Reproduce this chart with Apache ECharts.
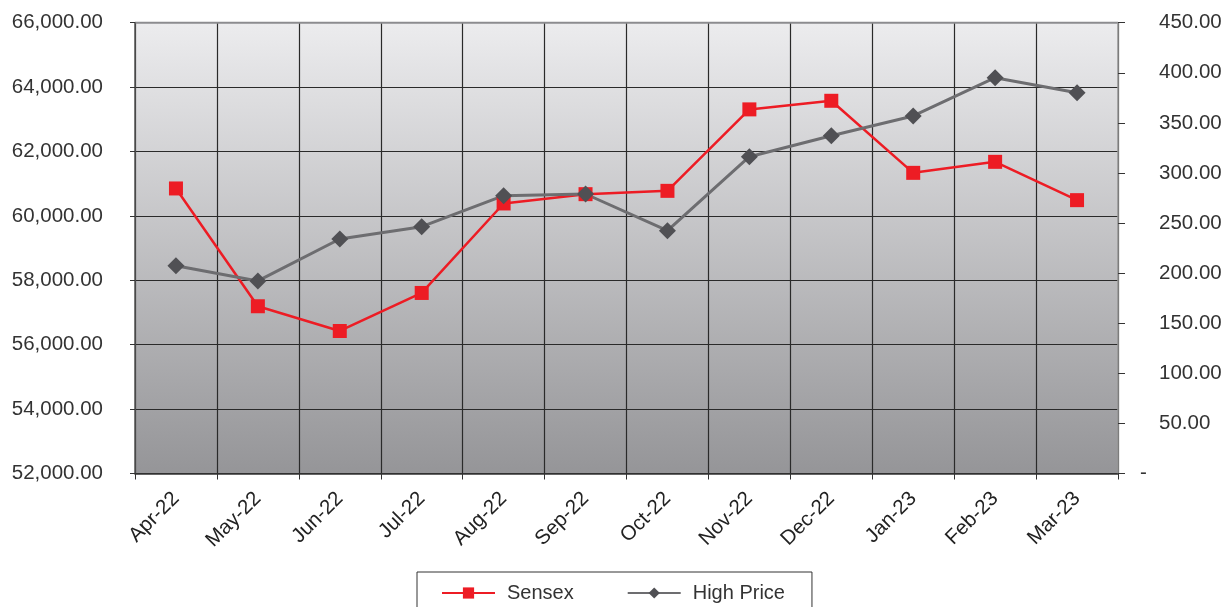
<!DOCTYPE html>
<html><head><meta charset="utf-8">
<script src="https://cdn.jsdelivr.net/npm/echarts@6/dist/echarts.min.js"></script>
<style>html,body{margin:0;padding:0;background:#fff}#c{width:1225px;height:607px}</style>
</head><body><div id="c"></div>
<script>
const months = ['Apr-22','May-22','Jun-22','Jul-22','Aug-22','Sep-22','Oct-22','Nov-22','Dec-22','Jan-23','Feb-23','Mar-23'];
const sensex = [60852, 57194, 56426, 57607, 60386, 60675, 60778, 63308, 63575, 61337, 61679, 60489];
const highPrice = [207.4, 192.2, 234.1, 246.4, 277.3, 279.0, 242.4, 316.2, 337.2, 356.9, 395.1, 380.1];
const leftTicks = {min: 52000, max: 66000, interval: 2000};
const rightTicks = {min: 0, max: 450, interval: 50};

const font = 'Liberation Sans, Arial, sans-serif';
const fs = 20.5;
const fmt2 = v => v.toLocaleString('en-US', {minimumFractionDigits: 2, maximumFractionDigits: 2});
const chart = echarts.init(document.getElementById('c'));
chart.setOption({
  animation: false,
  grid: {
    left: 135, right: 107, top: 22.7, bottom: 133.5, show: true,
    borderWidth: 0,
    backgroundColor: {type: 'linear', x: 0, y: 0, x2: 0, y2: 1,
      colorStops: [{offset: 0, color: '#ececee'}, {offset: 1, color: '#959598'}]}
  },
  legend: {
    left: 417, top: 572, padding: [11, 27, 20, 24],
    borderColor: '#333', borderWidth: 1, itemGap: 53, itemWidth: 53, itemHeight: 14,
    textStyle: {fontFamily: font, fontSize: 20, color: '#333', padding: [0, 0, 0, 7]},
    data: ['Sensex', 'High Price']
  },
  xAxis: {
    type: 'category', data: months, boundaryGap: true,
    axisLine: {lineStyle: {color: '#333', width: 1.5}},
    axisTick: {show: true, length: 6, lineStyle: {color: '#333'}},
    splitLine: {show: true, lineStyle: {color: '#2a2a2a', width: 1.2}},
    axisLabel: {rotate: 45, margin: 22, fontFamily: font, fontSize: fs, color: '#222', interval: 0}
  },
  yAxis: [{
    type: 'value', min: leftTicks.min, max: leftTicks.max, interval: leftTicks.interval,
    axisLine: {show: true, lineStyle: {color: '#555', width: 1.5}},
    axisTick: {show: true, length: 5, lineStyle: {color: '#333'}},
    splitLine: {show: true, lineStyle: {color: '#2a2a2a', width: 1.2}},
    axisLabel: {margin: 32, fontFamily: font, fontSize: fs, color: '#333', formatter: v => fmt2(v)}
  }, {
    type: 'value', min: rightTicks.min, max: rightTicks.max, interval: rightTicks.interval,
    position: 'right',
    axisLine: {show: true, lineStyle: {color: '#999', width: 1.5}},
    axisTick: {show: true, length: 7, lineStyle: {color: '#333'}},
    splitLine: {show: false},
    axisLabel: {margin: 22, fontFamily: font, fontSize: fs, color: '#333', align: 'left',
      formatter: v => v === 0 ? '-' : '{n|' + fmt2(v) + '}',
      rich: {n: {fontFamily: font, fontSize: fs, color: '#333', padding: [0, 0, 0, 19]}}}
  }],
  series: [{
    name: 'Sensex', type: 'line', yAxisIndex: 0, data: sensex,
    symbol: 'rect', symbolSize: 14,
    lineStyle: {color: '#ed1c24', width: 2.5},
    itemStyle: {color: '#ed1c24'}
  }, {
    name: 'High Price', type: 'line', yAxisIndex: 1, data: highPrice,
    symbol: 'diamond', symbolSize: 17,
    lineStyle: {color: '#6d6d70', width: 3},
    itemStyle: {color: '#505054'}
  }]
});
chart.setOption({graphic: [{type: 'line', shape: {x1: 135, y1: 22.7, x2: 1118, y2: 22.7}, style: {stroke: '#8c8c8f', lineWidth: 2}}]});
</script></body></html>
